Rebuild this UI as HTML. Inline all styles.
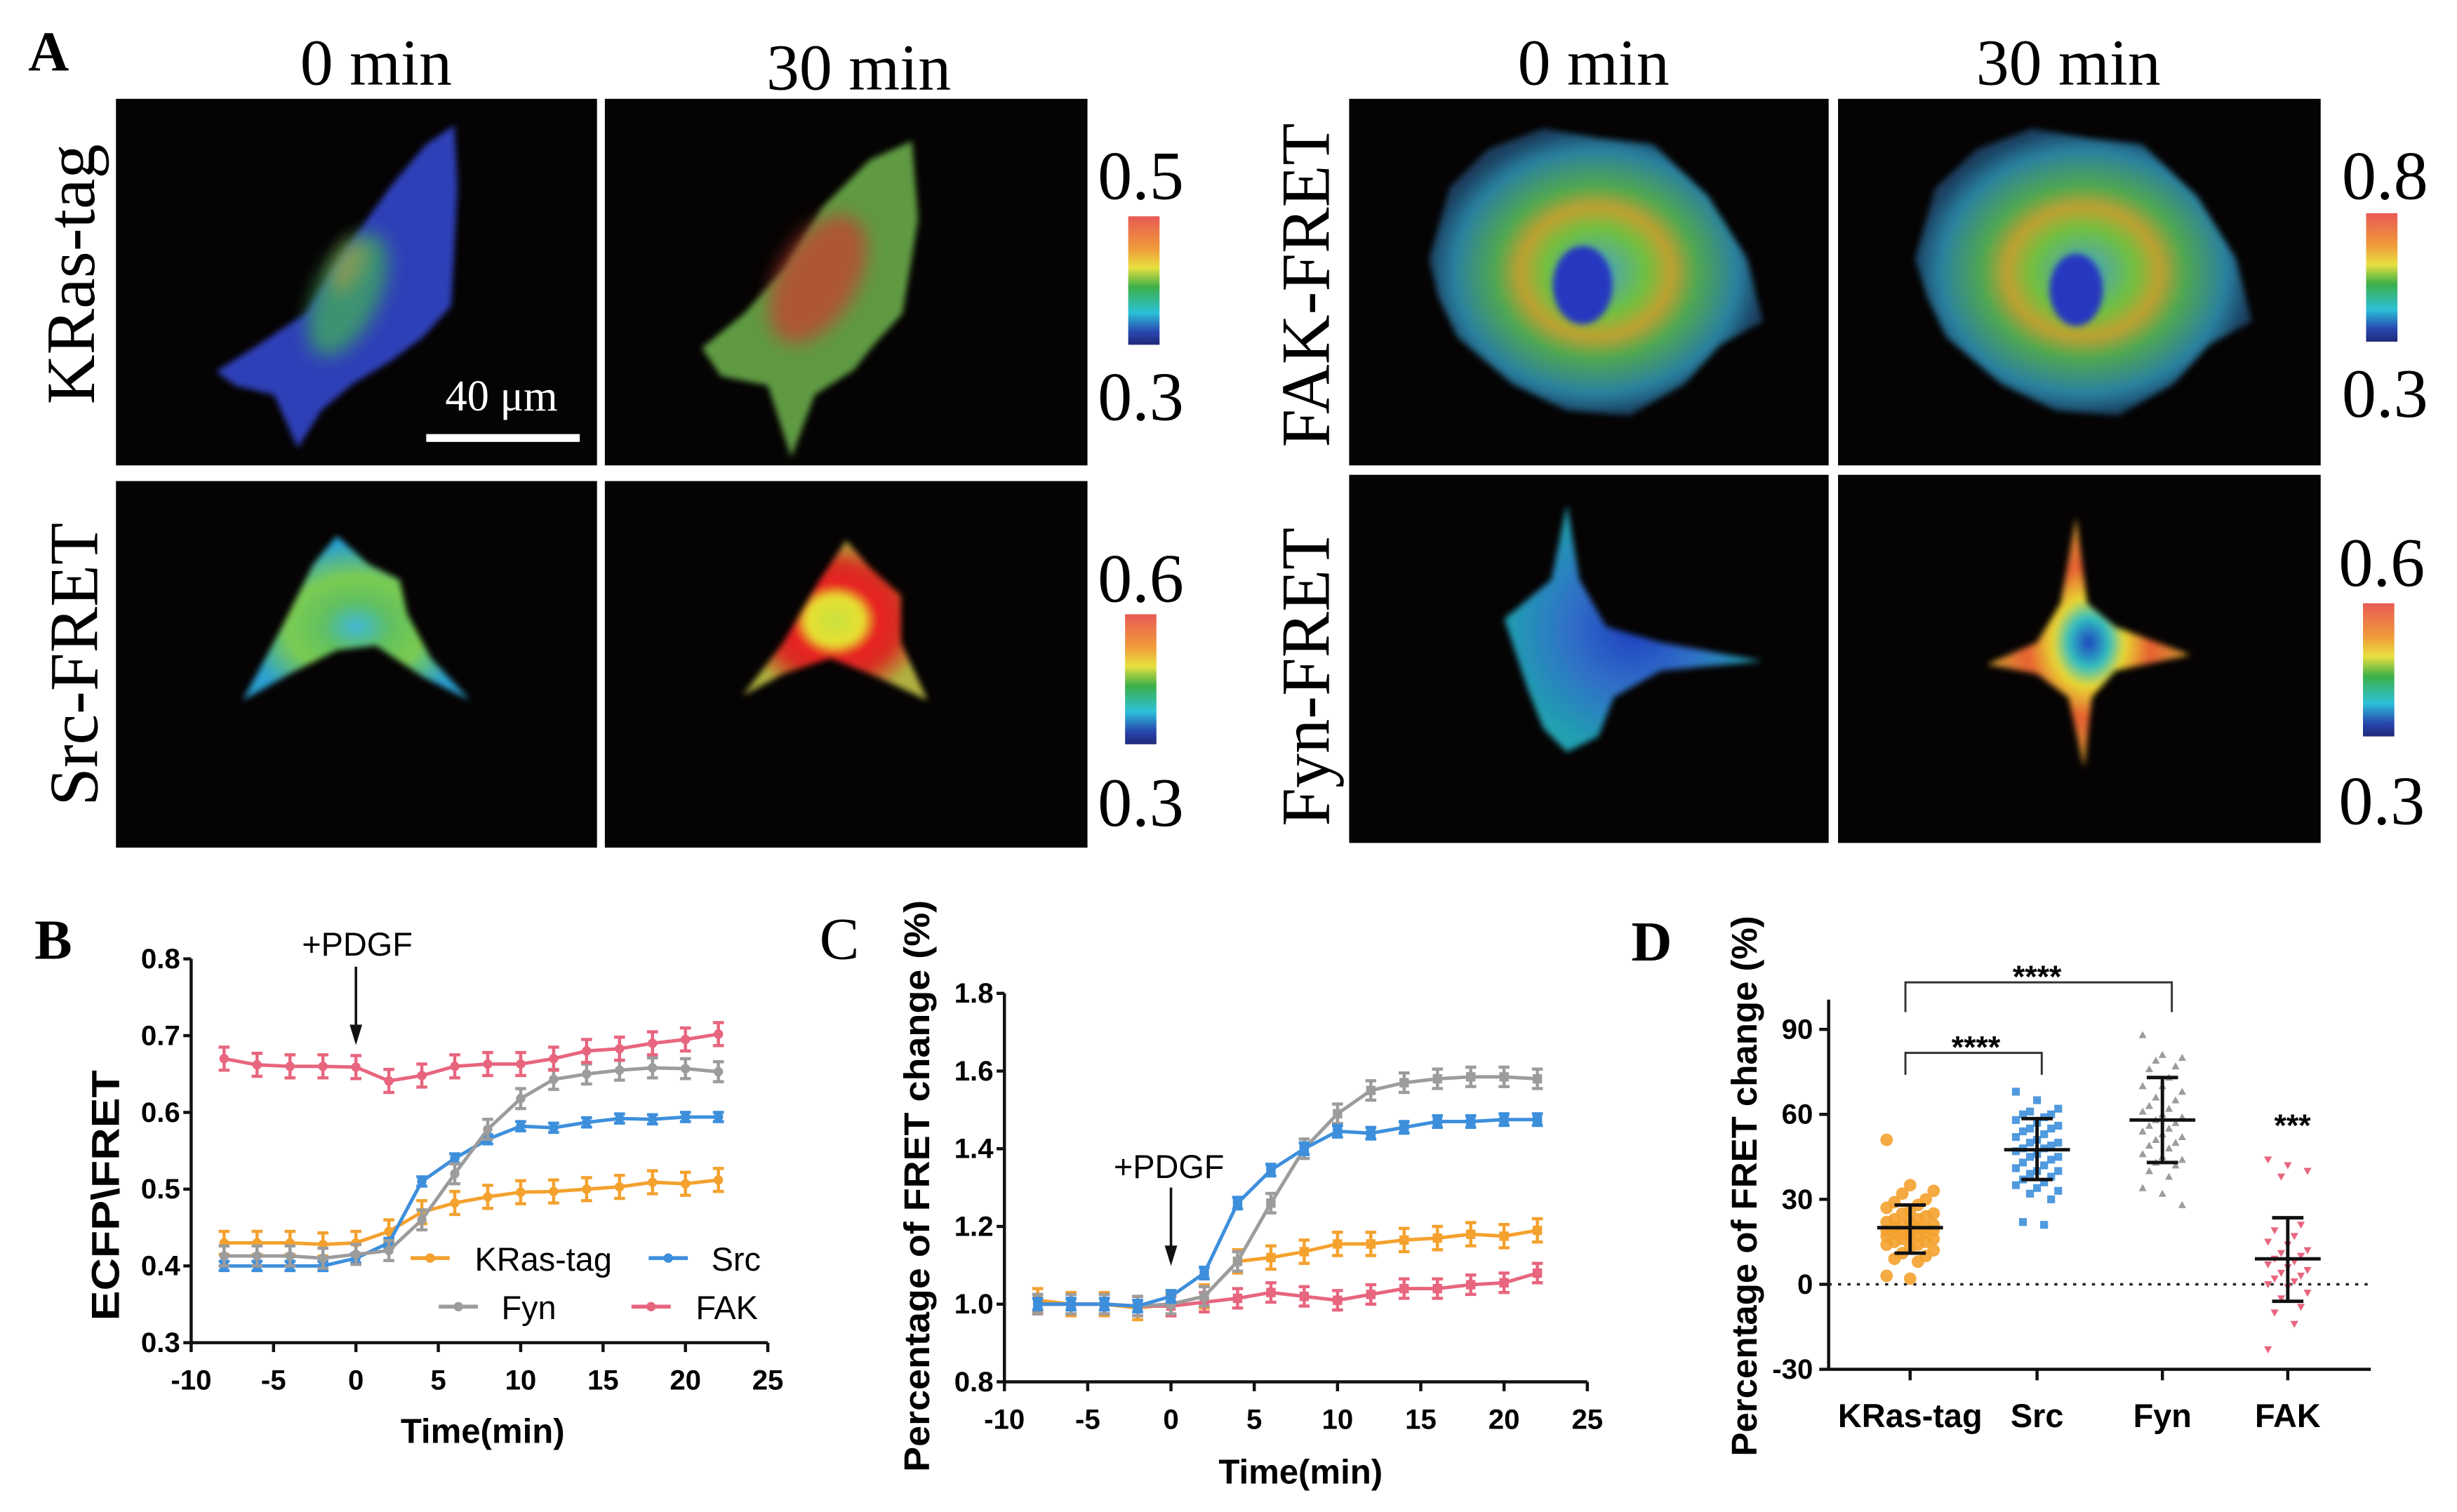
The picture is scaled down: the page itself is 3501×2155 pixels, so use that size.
<!DOCTYPE html>
<html><head><meta charset="utf-8"><style>
html,body{margin:0;padding:0;background:#fff}
svg{display:block}
.ser{font-family:"Liberation Serif",serif}
.sans{font-family:"Liberation Sans",sans-serif}
</style></head><body>
<svg id="fig" width="3501" height="2155" viewBox="0 0 1568 965" xmlns="http://www.w3.org/2000/svg">
<defs>
<linearGradient id="cbar" x1="0" y1="0" x2="0" y2="1">
<stop offset="0" stop-color="#e85a55"/><stop offset="0.25" stop-color="#f09a3a"/><stop offset="0.4" stop-color="#e8e040"/><stop offset="0.55" stop-color="#3cb048"/><stop offset="0.75" stop-color="#2cc0d8"/><stop offset="0.9" stop-color="#2848b0"/><stop offset="1" stop-color="#202878"/>
</linearGradient>
<filter id="bl" x="-20%" y="-20%" width="140%" height="140%"><feGaussianBlur stdDeviation="2"/></filter>
<filter id="bl2" x="-50%" y="-50%" width="200%" height="200%"><feGaussianBlur stdDeviation="6"/></filter>
<radialGradient id="srcA" cx="0.5" cy="0.55" r="0.5"><stop offset="0" stop-color="#40b8d8"/><stop offset="0.3" stop-color="#60c060"/><stop offset="0.6" stop-color="#7ccc50"/><stop offset="1" stop-color="#2aa0d0"/></radialGradient>
<radialGradient id="srcB" cx="0.5" cy="0.5" r="0.5"><stop offset="0" stop-color="#c8e040"/><stop offset="0.3" stop-color="#e8e030"/><stop offset="0.45" stop-color="#e82020"/><stop offset="0.7" stop-color="#d83020"/><stop offset="1" stop-color="#b0b040"/></radialGradient>
<radialGradient id="fakG" cx="0.5" cy="0.5" r="0.5"><stop offset="0" stop-color="#40a0d0"/><stop offset="0.3" stop-color="#70c040"/><stop offset="0.45" stop-color="#c0a030"/><stop offset="0.6" stop-color="#50a850"/><stop offset="0.85" stop-color="#2a80a0"/><stop offset="1" stop-color="#1a4060"/></radialGradient>
<radialGradient id="fynB" cx="0.5" cy="0.5" r="0.5"><stop offset="0" stop-color="#2040c0"/><stop offset="0.5" stop-color="#3070c8"/><stop offset="1" stop-color="#20a0b0"/></radialGradient>
<radialGradient id="fynS" cx="0.5" cy="0.5" r="0.5"><stop offset="0" stop-color="#2040c0"/><stop offset="0.2" stop-color="#30c0c0"/><stop offset="0.35" stop-color="#e8d830"/><stop offset="0.6" stop-color="#e86030"/><stop offset="1" stop-color="#d0a030"/></radialGradient>
</defs>

<!-- Panel A -->
<text class="ser" x="18" y="45" font-size="36" font-weight="bold">A</text>
<text class="ser" x="240" y="54" font-size="42" text-anchor="middle">0 min</text>
<text class="ser" x="548" y="57" font-size="42" text-anchor="middle">30 min</text>
<text class="ser" x="1017" y="54" font-size="42" text-anchor="middle">0 min</text>
<text class="ser" x="1320" y="54" font-size="42" text-anchor="middle">30 min</text>
<text class="ser" font-size="44" text-anchor="middle" transform="translate(60,175) rotate(-90)">KRas-tag</text>
<text class="ser" font-size="44" text-anchor="middle" transform="translate(62,424) rotate(-90)">Src-FRET</text>
<text class="ser" font-size="44" text-anchor="middle" transform="translate(848,182) rotate(-90)">FAK-FRET</text>
<text class="ser" font-size="44" text-anchor="middle" transform="translate(848,432) rotate(-90)">Fyn-FRET</text>

<g>
<rect x="74" y="63" width="307" height="234" fill="#050303"/>
<polygon filter="url(#bl)" fill="#2f40b8" points="138,237 165,220 195,200 220,160 250,118 272,92 290,80 292,120 288,195 270,215 250,230 225,245 205,262 190,286 175,252 150,246"/>
<ellipse cx="222" cy="188" rx="20" ry="42" transform="rotate(25 222 188)" fill="#40a860" opacity="0.8" filter="url(#bl2)"/>
<ellipse cx="222" cy="170" rx="8" ry="18" transform="rotate(25 222 170)" fill="#c0a040" opacity="0.6" filter="url(#bl2)"/>
</g>
<g>
<rect x="386" y="63" width="308" height="234" fill="#050303"/>
<polygon filter="url(#bl)" fill="#5e9a42" points="448,222 475,200 500,172 525,132 555,102 582,90 586,140 576,200 556,222 545,236 520,252 505,292 490,246 460,240"/>
<ellipse cx="522" cy="178" rx="25" ry="45" transform="rotate(30 522 178)" fill="#c84030" opacity="0.75" filter="url(#bl2)"/>
</g>
<g>
<rect x="74" y="307" width="307" height="234" fill="#050303"/>
<polygon filter="url(#bl)" fill="url(#srcA)" points="155,447 180,400 200,360 215,342 235,360 255,370 260,392 275,420 300,447 270,432 240,412 215,415 185,430"/>
</g>
<g>
<rect x="386" y="307" width="308" height="234" fill="#050303"/>
<polygon filter="url(#bl)" fill="url(#srcB)" points="474,444 500,410 522,372 540,345 555,362 575,380 575,410 592,447 560,432 530,420 500,430"/>
</g>
<g>
<rect x="861" y="63" width="306" height="234" fill="#050303"/>
<polygon filter="url(#bl)" fill="url(#fakG)" points="912,165 925,120 950,95 985,82 1020,88 1055,92 1090,125 1115,165 1125,205 1098,220 1075,245 1040,265 1000,262 965,245 930,215 918,190"/>
<ellipse cx="1010" cy="182" rx="19" ry="25" fill="#2838c0" filter="url(#bl)"/>
</g>
<g>
<rect x="1173" y="63" width="308" height="234" fill="#050303"/>
<polygon filter="url(#bl)" fill="url(#fakG)" points="1222,165 1235,120 1262,95 1297,82 1332,88 1367,92 1402,125 1427,165 1437,205 1410,220 1387,245 1352,265 1312,262 1277,245 1242,215 1230,190"/>
<ellipse cx="1325" cy="185" rx="17" ry="23" fill="#2838c0" filter="url(#bl)"/>
</g>
<g>
<rect x="861" y="303" width="306" height="235" fill="#050303"/>
<polygon filter="url(#bl)" fill="url(#fynB)" points="1000,322 1008,370 1025,400 1060,410 1125,422 1060,428 1030,445 1020,470 1000,480 985,465 975,440 960,395 990,370"/>
</g>
<g>
<rect x="1173" y="303" width="308" height="235" fill="#050303"/>
<polygon filter="url(#bl)" fill="url(#fynS)" points="1325,330 1332,385 1350,400 1398,418 1350,428 1335,445 1330,490 1320,445 1300,430 1268,424 1300,410 1315,385"/>
</g>
<rect x="272" y="277" width="98" height="5" fill="#fff"/>
<text class="ser" x="320" y="262" font-size="28" fill="#fff" text-anchor="middle">40 μm</text>

<g>
<rect x="720" y="138" width="20" height="82" fill="url(#cbar)"/>
<text class="ser" x="728" y="127" font-size="44" text-anchor="middle">0.5</text>
<text class="ser" x="728" y="268" font-size="44" text-anchor="middle">0.3</text>
</g>
<g>
<rect x="718" y="392" width="20" height="83" fill="url(#cbar)"/>
<text class="ser" x="728" y="384" font-size="44" text-anchor="middle">0.6</text>
<text class="ser" x="728" y="527" font-size="44" text-anchor="middle">0.3</text>
</g>
<g>
<rect x="1510" y="136" width="20" height="82" fill="url(#cbar)"/>
<text class="ser" x="1522" y="127" font-size="44" text-anchor="middle">0.8</text>
<text class="ser" x="1522" y="266" font-size="44" text-anchor="middle">0.3</text>
</g>
<g>
<rect x="1508" y="385" width="20" height="85" fill="url(#cbar)"/>
<text class="ser" x="1520" y="374" font-size="44" text-anchor="middle">0.6</text>
<text class="ser" x="1520" y="526" font-size="44" text-anchor="middle">0.3</text>
</g>

<!-- Panel letters -->
<text class="ser" x="22" y="612" font-size="36" font-weight="bold">B</text>
<text class="ser" x="523" y="612" font-size="38">C</text>
<text class="ser" x="1041" y="613" font-size="36" font-weight="bold">D</text>

<g id="chartB"></g>
<g id="chartC"></g>
<g id="chartD"></g>
</svg>
<script>
// ---- Shared data for B and C ----
const times = [-8,-6,-4,-2,0,2,4,6,8,10,12,14,16,18,20,22];
const seriesNames = ["KRas-tag","Src","Fyn","FAK"];
const seriesColors = ["#f4a12e","#3d8fdc","#9c9c9c","#e8657e"];
// Panel B values (ECFP/FRET)
const bKras = [.43,.43,.43,.428,.43,.445,.47,.482,.49,.496,.497,.5,.503,.509,.507,.512];
const bSrc  = [.40,.40,.40,.40,.41,.43,.51,.54,.565,.582,.58,.587,.592,.591,.594,.594];
const bFyn  = [.413,.413,.413,.41,.415,.42,.46,.52,.578,.618,.643,.65,.655,.658,.657,.653];
const bFak  = [.67,.662,.66,.66,.659,.641,.648,.66,.663,.663,.67,.68,.683,.69,.695,.702];
const bErr  = [.015,.006,.013,.015];
const bYTicks = [0.3,0.4,0.5,0.6,0.7,0.8];
const xTicks = [-10,-5,0,5,10,15,20,25];
// Panel C values (normalized)
const cKras = [1.01,1.0,1.0,.99,1.0,1.02,1.11,1.12,1.135,1.155,1.155,1.165,1.17,1.18,1.175,1.19];
const cSrc  = [1.0,1.0,1.0,.995,1.02,1.08,1.26,1.345,1.40,1.445,1.44,1.455,1.47,1.47,1.475,1.475];
const cFyn  = [1.0,1.0,1.0,.995,1.0,1.02,1.11,1.26,1.40,1.49,1.55,1.57,1.58,1.585,1.585,1.58];
const cFak  = [1.0,1.0,1.0,.995,.995,1.005,1.015,1.03,1.02,1.01,1.025,1.04,1.04,1.05,1.055,1.08];
const cErr  = [.03,.015,.025,.025];
const cYTicks = [0.8,1.0,1.2,1.4,1.6,1.8];
// Panel D values
const dCats = ["KRas-tag","Src","Fyn","FAK"];
const dKras = [51,35,33,32,30,29,28,27,26,25,25,24,23,23,22,22,21,21,20,20,20,19,19,19,18,18,18,17,17,17,16,16,15,15,14,14,13,12,11,10,9,8,3,2];
const dSrc  = [68,65,62,61,60,60,59,58,57,56,55,55,54,53,52,51,50,50,49,48,48,47,46,45,45,44,43,42,41,40,40,39,38,37,36,35,34,33,32,30,22,21];
const dFyn  = [88,81,80,79,77,76,73,70,70,68,66,65,63,62,61,60,59,58,57,56,55,54,53,52,51,50,49,48,46,45,44,43,42,40,38,34,32,28];
const dFak  = [44,42,40,38,21,19,17,15,14,12,11,10,9,8,7,6,5,4,3,2,1,0,-1,-3,-5,-8,-10,-14,-23];
const dMeans = [20,47.5,58,9];
const dSdLow = [11,37,43,-6];
const dSdHigh = [28,58.5,73,23.5];
const dYTicks = [-30,0,30,60,90];

const NS = "http://www.w3.org/2000/svg";
function mk(parent, tag, attrs, text){
  const e = document.createElementNS(NS, tag);
  for (const k in attrs) e.setAttribute(k, attrs[k]);
  if (text !== undefined) e.textContent = text;
  parent.appendChild(e);
  return e;
}
const SANS = '"Liberation Sans", sans-serif';

function lineChart(g, X, Y, yTicks, yFmt, series, colors, names, errs, xAxisY, yAxisX, xEnd, yTop, tickFs, markerShape){
  let a = mk(g,'line',{x1:yAxisX,y1:yTop,x2:yAxisX,y2:xAxisY,stroke:'#111','stroke-width':2});
  
  
  a = mk(g,'line',{x1:yAxisX,y1:xAxisY,x2:xEnd,y2:xAxisY,stroke:'#111','stroke-width':2});
  
  
  yTicks.forEach(v=>{
    const y = Y(v);
    mk(g,'line',{x1:yAxisX-5,y1:y,x2:yAxisX,y2:y,stroke:'#111','stroke-width':2});
    const t = mk(g,'text',{x:yAxisX-7,y:y+6,'font-family':SANS,'font-size':tickFs,'font-weight':'bold','text-anchor':'end'}, yFmt(v));
    
    
  });
  xTicks.forEach(v=>{
    const x = X(v);
    mk(g,'line',{x1:x,y1:xAxisY,x2:x,y2:xAxisY+6,stroke:'#111','stroke-width':2});
    const t = mk(g,'text',{x:x,y:xAxisY+30,'font-family':SANS,'font-size':tickFs,'font-weight':'bold','text-anchor':'middle'}, String(v));
    
    
  });
  series.forEach((vals,si)=>{
    const col = colors[si];
    const sg = mk(g,'g',{});
    
    
    const pts = vals.map((v,i)=>X(times[i])+','+Y(v)).join(' ');
    mk(sg,'polyline',{points:pts,fill:'none',stroke:col,'stroke-width':2.2});
    vals.forEach((v,i)=>{
      const x = X(times[i]), y1 = Y(v+errs[si]), y2 = Y(v-errs[si]);
      mk(sg,'line',{x1:x,y1:y1,x2:x,y2:y2,stroke:col,'stroke-width':2});
      mk(sg,'line',{x1:x-3.5,y1:y1,x2:x+3.5,y2:y1,stroke:col,'stroke-width':2});
      mk(sg,'line',{x1:x-3.5,y1:y2,x2:x+3.5,y2:y2,stroke:col,'stroke-width':2});
      const p = markerShape==='sq' ? mk(sg,'rect',{x:x-3,y:Y(v)-3,width:6,height:6,fill:col}) : mk(sg,'circle',{cx:x,cy:Y(v),r:3,fill:col});
      
      
    });
  });
}

// ---- Chart B ----
(function(){
  const g = document.getElementById('chartB');
  const X = v => 122 + (v+10)*(490-122)/35;
  const Y = v => 612 + (0.8-v)*(857-612)/0.5;
  lineChart(g,X,Y,bYTicks,v=>v.toFixed(1),[bKras,bSrc,bFyn,bFak],seriesColors,seriesNames,bErr,857,122,490,612,18,'c');
  let t = mk(g,'text',{x:228,y:610,'font-family':SANS,'font-size':21,'text-anchor':'middle'},'+PDGF');
  
  
  mk(g,'line',{x1:X(0),y1:617,x2:X(0),y2:656,stroke:'#111','stroke-width':1.6});
  mk(g,'polygon',{points:`${X(0)-4},654 ${X(0)+4},654 ${X(0)},667`,fill:'#111'});
  t = mk(g,'text',{x:0,y:0,'font-family':SANS,'font-size':25,'font-weight':'bold','text-anchor':'middle',textLength:160,lengthAdjust:'spacingAndGlyphs',transform:'translate(76,763) rotate(-90)'},'ECFP\\FRET');
  
  
  t = mk(g,'text',{x:308,y:921,'font-family':SANS,'font-size':22,'font-weight':'bold','text-anchor':'middle'},'Time(min)');
  
  
  const leg = [[262,803,303,811],[414,803,454,811],[280,834,320,842],[403,834,444,842]];
  seriesNames.forEach((n,i)=>{
    const lg = mk(g,'g',{});
    
    
    const [lx,ly,tx,ty] = leg[i];
    mk(lg,'line',{x1:lx,y1:ly,x2:lx+25,y2:ly,stroke:seriesColors[i],'stroke-width':2.5});
    mk(lg,'circle',{cx:lx+12.5,cy:ly,r:3,fill:seriesColors[i]});
    mk(lg,'text',{x:tx,y:ty,'font-family':SANS,'font-size':21},n);
  });
})();

// ---- Chart C ----
(function(){
  const g = document.getElementById('chartC');
  const X = v => 641 + (v+10)*(1013-641)/35;
  const Y = v => 634 + (1.8-v)*(882-634)/1.0;
  const order = [0,3,2,1];
  const data = [cKras,cFak,cFyn,cSrc];
  lineChart(g,X,Y,cYTicks,v=>v.toFixed(1),data,order.map(i=>seriesColors[i]),order.map(i=>seriesNames[i]),order.map(i=>cErr[i]),882,641,1013,634,18,'sq');
  let t = mk(g,'text',{x:746,y:752,'font-family':SANS,'font-size':21,'text-anchor':'middle'},'+PDGF');
  
  
  mk(g,'line',{x1:X(0),y1:758,x2:X(0),y2:797,stroke:'#111','stroke-width':1.6});
  mk(g,'polygon',{points:`${X(0)-4},795 ${X(0)+4},795 ${X(0)},808`,fill:'#111'});
  t = mk(g,'text',{x:0,y:0,'font-family':SANS,'font-size':23,'font-weight':'bold','text-anchor':'middle',textLength:365,lengthAdjust:'spacingAndGlyphs',transform:'translate(593,757) rotate(-90)'},'Percentage of FRET change (%)');
  
  
  t = mk(g,'text',{x:830,y:947,'font-family':SANS,'font-size':22,'font-weight':'bold','text-anchor':'middle'},'Time(min)');
  
  
})();

// ---- Chart D ----
(function(){
  const g = document.getElementById('chartD');
  const catX = [1219,1300,1380,1460];
  const Y = v => 657 + (90-v)*(874-657)/120;
  let a = mk(g,'line',{x1:1167,y1:638,x2:1167,y2:874,stroke:'#111','stroke-width':2});
  
  
  a = mk(g,'line',{x1:1167,y1:874,x2:1513,y2:874,stroke:'#111','stroke-width':2});
  
  
  dYTicks.forEach(v=>{
    const y = Y(v);
    mk(g,'line',{x1:1161,y1:y,x2:1167,y2:y,stroke:'#111','stroke-width':2});
    const t = mk(g,'text',{x:1157,y:y+6,'font-family':SANS,'font-size':18,'font-weight':'bold','text-anchor':'end'},String(v));
    
    
  });
  mk(g,'line',{x1:1167,y1:Y(0),x2:1513,y2:Y(0),stroke:'#222','stroke-width':1.6,'stroke-dasharray':'2,4'});
  dCats.forEach((c,i)=>{
    mk(g,'line',{x1:catX[i],y1:874,x2:catX[i],y2:881,stroke:'#111','stroke-width':2});
    const t = mk(g,'text',{x:catX[i],y:911,'font-family':SANS,'font-size':21,'font-weight':'bold','text-anchor':'middle'},c);
    
    
  });
  const all = [dKras,dSrc,dFyn,dFak];
  const spreads = [5,4.5,4.2,4.2];
  all.forEach((vals,si)=>{
    const col = seriesColors[si];
    const sg = mk(g,'g',{});
    
    
    vals.forEach((v,i)=>{
      const off = ((i*3)%7 - 3)*spreads[si];
      const x = catX[si]+off, y = Y(v);
      let p;
      if (si===0) p = mk(sg,'circle',{cx:x,cy:y,r:4,fill:col,opacity:0.9});
      else if (si===1) p = mk(sg,'rect',{x:x-2.5,y:y-2.5,width:5,height:5,fill:col,opacity:0.9});
      else if (si===2) p = mk(sg,'polygon',{points:`${x-2.5},${y+2} ${x+2.5},${y+2} ${x},${y-2.5}`,fill:col});
      else p = mk(sg,'polygon',{points:`${x-2.5},${y-2} ${x+2.5},${y-2} ${x},${y+2.5}`,fill:col});
      
      
    });
    const x = catX[si];
    const eg = mk(g,'g',{stroke:'#111','stroke-width':2.2});
    
    
    mk(eg,'line',{x1:x-21,y1:Y(dMeans[si]),x2:x+21,y2:Y(dMeans[si])});
    mk(eg,'line',{x1:x,y1:Y(dSdLow[si]),x2:x,y2:Y(dSdHigh[si])});
    mk(eg,'line',{x1:x-10,y1:Y(dSdLow[si]),x2:x+10,y2:Y(dSdLow[si])});
    mk(eg,'line',{x1:x-10,y1:Y(dSdHigh[si]),x2:x+10,y2:Y(dSdHigh[si])});
  });
  const b1 = mk(g,'polyline',{points:'1216,646 1216,627 1386,627 1386,646',fill:'none',stroke:'#333','stroke-width':1.3});
  
  
  const b2 = mk(g,'polyline',{points:'1216,686 1216,672 1303,672 1303,686',fill:'none',stroke:'#333','stroke-width':1.3});
  
  
  let t = mk(g,'text',{x:1300,y:630,'font-family':SANS,'font-size':20,'font-weight':'bold','text-anchor':'middle'},'****');
  
  
  t = mk(g,'text',{x:1261,y:675,'font-family':SANS,'font-size':20,'font-weight':'bold','text-anchor':'middle'},'****');
  
  
  t = mk(g,'text',{x:1463,y:725,'font-family':SANS,'font-size':20,'font-weight':'bold','text-anchor':'middle'},'***');
  
  
  t = mk(g,'text',{x:0,y:0,'font-family':SANS,'font-size':23,'font-weight':'bold','text-anchor':'middle',textLength:345,lengthAdjust:'spacingAndGlyphs',transform:'translate(1121,757) rotate(-90)'},'Percentage of FRET change (%)');
  
  
})();
</script>
</body></html>
